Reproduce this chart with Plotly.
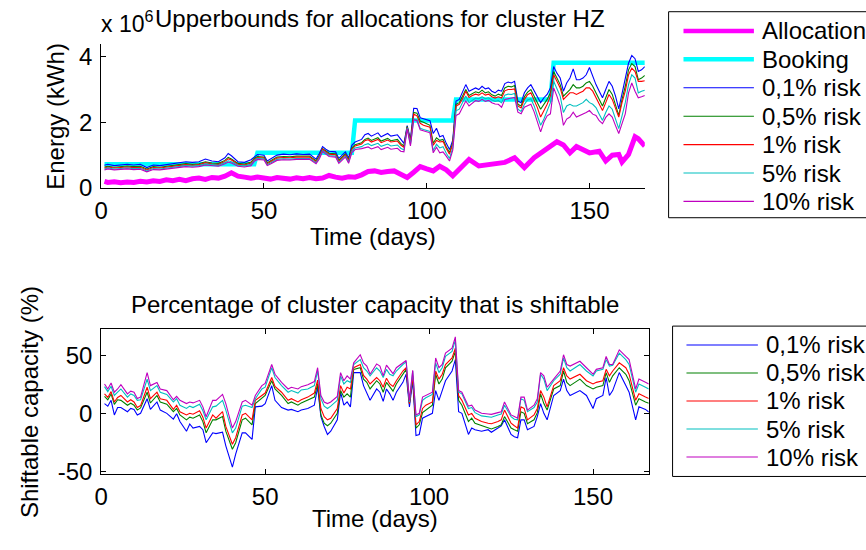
import plotly.graph_objects as go

# ---------------- DATA ----------------
# Top panel: energy (x 10^6 kWh)
top_days = [1, 2, 4, 6, 8, 10, 12, 14, 16, 18, 20, 22, 24, 26, 28, 30, 32, 34, 36, 38, 39, 40, 42, 44, 46,
            47, 48, 50, 51, 52, 54, 56, 58, 60, 62, 64, 66, 67, 68, 69, 70, 72, 73, 75, 76, 77, 78, 80,
            81, 82, 83, 85, 86, 88, 89, 91, 92, 93, 94, 95, 96, 97, 98, 99, 101, 102, 103, 104, 105, 106,
            107, 108, 109, 110, 111, 112, 113, 114, 115, 116, 117, 118, 119, 120, 121, 122, 123, 124, 125,
            126, 127, 128, 129, 130, 131, 132, 133, 134, 135, 136, 137, 138, 139, 140, 141, 142, 143, 144,
            145, 146, 147, 148, 149, 150, 151, 152, 153, 154, 155, 156, 157, 158, 159, 160, 161, 162, 163,
            164, 165, 166, 167]
ub_01 = [0.69, 0.72, 0.68, 0.70, 0.72, 0.70, 0.72, 0.62, 0.70, 0.68, 0.71, 0.73, 0.76, 0.80, 0.78, 0.80, 0.88,
         0.82, 0.80, 0.92, 1.05, 0.98, 0.80, 0.78, 0.86,
         0.95, 1.02, 1.00, 0.82, 0.88, 1.00, 1.03, 1.01, 1.04, 1.02, 1.03, 0.88, 1.05, 1.26, 1.18, 1.12,
         1.10, 0.90, 1.10, 0.92, 1.30, 1.40, 1.48,
         1.62, 1.66, 1.58, 1.68, 1.56, 1.66, 1.58, 1.62, 1.48, 1.36, 1.90, 1.48, 2.43, 2.42, 2.14, 2.11,
         2.05, 1.66, 1.82, 1.56, 1.60, 1.36,
         1.17, 1.46, 2.65, 2.70, 2.90, 3.15, 2.95, 3.00, 3.05, 3.00, 3.10, 3.02, 3.05, 2.95, 2.90, 2.98,
         2.95, 3.18, 3.23,
         3.20, 3.25, 2.65, 2.60, 2.90, 3.05, 3.15, 2.95, 2.80, 2.60, 2.75, 2.85, 3.05, 3.70, 3.50, 3.35,
         2.95, 3.20, 3.35,
         3.63, 3.30, 3.30, 3.35, 3.45, 3.67, 3.40, 3.15, 2.95, 2.75, 3.00, 3.25, 3.10, 2.80, 2.41, 2.90,
         3.30, 3.80, 4.04,
         3.94, 3.55, 3.60, 3.70]
ub_05 = [0.64, 0.66, 0.63, 0.65, 0.67, 0.65, 0.66, 0.58, 0.65, 0.63, 0.66, 0.68, 0.70, 0.74, 0.72, 0.74, 0.80,
         0.76, 0.75, 0.84, 0.93, 0.88, 0.75, 0.73, 0.79,
         0.90, 0.96, 0.94, 0.77, 0.82, 0.94, 0.96, 0.95, 0.97, 0.96, 0.97, 0.83, 0.98, 1.20, 1.12, 1.06,
         1.04, 0.85, 1.04, 0.86, 1.22, 1.32, 1.38,
         1.48, 1.52, 1.45, 1.53, 1.43, 1.51, 1.44, 1.48, 1.36, 1.28, 1.88, 1.42, 2.30, 2.28, 2.04, 2.00,
         1.91, 1.36, 1.53, 1.45, 1.48, 1.25,
         1.08, 1.38, 2.55, 2.60, 2.78, 3.00, 2.82, 2.88, 2.93, 2.90, 2.98, 2.90, 2.93, 2.84, 2.80, 2.86,
         2.82, 3.05, 3.10,
         3.08, 3.12, 2.55, 2.50, 2.78, 2.92, 3.00, 2.78, 2.60, 2.40, 2.55, 2.70, 2.90, 3.55, 3.35, 3.15,
         2.80, 2.90, 3.00,
         3.15, 3.05, 3.05, 3.10, 3.20, 3.25, 3.10, 2.90, 2.70, 2.50, 2.75, 3.00, 2.85, 2.55, 2.21, 2.70,
         3.10, 3.60, 3.79,
         3.70, 3.30, 3.35, 3.43]
ub_1 = [0.61, 0.64, 0.61, 0.62, 0.64, 0.62, 0.63, 0.55, 0.62, 0.61, 0.63, 0.65, 0.67, 0.71, 0.69, 0.71, 0.77,
        0.73, 0.72, 0.81, 0.89, 0.85, 0.72, 0.70, 0.76,
        0.87, 0.93, 0.91, 0.74, 0.79, 0.91, 0.93, 0.92, 0.94, 0.93, 0.94, 0.80, 0.95, 1.18, 1.09, 1.03,
        1.01, 0.82, 1.01, 0.83, 1.18, 1.28, 1.34,
        1.44, 1.47, 1.40, 1.48, 1.38, 1.46, 1.40, 1.43, 1.31, 1.24, 1.85, 1.38, 2.25, 2.20, 1.97, 1.91,
        1.85, 1.30, 1.45, 1.40, 1.42, 1.20,
        1.03, 1.34, 2.50, 2.55, 2.72, 2.95, 2.76, 2.82, 2.86, 2.83, 2.90, 2.83, 2.86, 2.78, 2.74, 2.78,
        2.74, 2.96, 3.00,
        3.00, 3.02, 2.50, 2.44, 2.70, 2.84, 2.90, 2.68, 2.45, 2.16, 2.35, 2.55, 2.80, 3.45, 3.25, 3.05,
        2.70, 2.80, 2.90,
        2.90, 2.85, 2.90, 2.95, 3.05, 3.05, 2.95, 2.75, 2.55, 2.36, 2.60, 2.85, 2.70, 2.45, 2.16, 2.60,
        2.95, 3.45, 3.65,
        3.55, 3.25, 3.25, 3.27]
ub_5 = [0.58, 0.61, 0.58, 0.59, 0.61, 0.59, 0.60, 0.52, 0.59, 0.58, 0.60, 0.62, 0.64, 0.68, 0.66, 0.68, 0.73,
        0.70, 0.69, 0.77, 0.83, 0.80, 0.69, 0.67, 0.72,
        0.84, 0.90, 0.88, 0.71, 0.76, 0.87, 0.89, 0.88, 0.90, 0.89, 0.90, 0.77, 0.92, 1.14, 1.05, 0.99,
        0.97, 0.78, 0.97, 0.79, 1.12, 1.22, 1.26,
        1.32, 1.35, 1.29, 1.36, 1.27, 1.34, 1.28, 1.31, 1.21, 1.16, 1.83, 1.32, 2.10, 2.08, 1.82, 1.78,
        1.72, 1.14, 1.33, 1.22, 1.26, 1.06,
        0.90, 1.22, 2.35, 2.40, 2.58, 2.80, 2.60, 2.68, 2.74, 2.72, 2.78, 2.72, 2.75, 2.68, 2.64, 2.66,
        2.60, 2.83, 2.86,
        2.85, 2.88, 2.40, 2.33, 2.55, 2.68, 2.72, 2.50, 2.20, 1.91, 2.10, 2.35, 2.60, 3.25, 3.05, 2.80,
        2.30, 2.50, 2.55,
        2.50, 2.50, 2.55, 2.60, 2.70, 2.60, 2.55, 2.45, 2.25, 2.06, 2.30, 2.50, 2.40, 2.10, 1.81, 2.20,
        2.60, 3.15, 3.45,
        3.35, 2.90, 2.95, 2.98]
ub_10 = [0.55, 0.58, 0.55, 0.56, 0.58, 0.56, 0.57, 0.49, 0.56, 0.55, 0.57, 0.59, 0.61, 0.65, 0.63, 0.65, 0.70,
         0.67, 0.66, 0.74, 0.79, 0.76, 0.66, 0.64, 0.68,
         0.81, 0.87, 0.85, 0.68, 0.73, 0.84, 0.86, 0.85, 0.87, 0.86, 0.87, 0.74, 0.88, 1.11, 1.02, 0.96,
         0.94, 0.75, 0.94, 0.75, 1.08, 1.17, 1.20,
         1.22, 1.25, 1.19, 1.26, 1.17, 1.24, 1.18, 1.21, 1.12, 1.10, 1.80, 1.28, 2.08, 2.05, 1.77, 1.74,
         1.68, 1.07, 1.24, 1.07, 1.10, 0.97,
         0.82, 1.15, 2.21, 2.26, 2.48, 2.65, 2.50, 2.58, 2.66, 2.64, 2.70, 2.64, 2.67, 2.60, 2.56, 2.55,
         2.46, 2.70, 2.72,
         2.74, 2.76, 2.31, 2.26, 2.46, 2.50, 2.55, 2.32, 2.00, 1.71, 2.01, 2.20, 2.26, 3.05, 2.80, 2.50,
         1.91, 2.10, 2.16,
         2.31, 2.16, 2.20, 2.26, 2.30, 2.36, 2.25, 2.21, 2.05, 1.96, 2.15, 2.26, 2.16, 1.90, 1.66, 1.96,
         2.26, 2.90, 3.20,
         2.95, 2.75, 2.78, 2.82]

alloc_days = [1, 2, 4, 6, 8, 10, 12, 14, 16, 18, 20, 22, 24, 26, 28, 30, 32, 34, 36, 38, 40, 42, 44, 46, 48,
              50, 52, 54, 56, 58, 60, 62, 64, 66, 68, 70, 72, 74, 76, 78, 80, 82, 84, 86, 88, 90, 92, 94,
              96, 98, 100, 102, 104, 106, 108, 110, 112, 113, 116, 118, 121, 124, 127, 130, 133, 135, 137,
              140, 142, 144, 146, 148, 150, 153, 155, 157, 159, 160, 162, 164, 165, 167]
allocation = [0.20, 0.17, 0.19, 0.16, 0.18, 0.17, 0.20, 0.18, 0.22, 0.20, 0.25, 0.22, 0.26, 0.22, 0.28, 0.30,
              0.26, 0.32, 0.30, 0.36, 0.46, 0.36, 0.33, 0.30, 0.33, 0.30, 0.27, 0.32, 0.30, 0.27, 0.31, 0.28,
              0.32, 0.28, 0.30, 0.38, 0.33, 0.30, 0.34, 0.33, 0.40, 0.50, 0.52, 0.47, 0.50, 0.52, 0.42, 0.32,
              0.48, 0.65, 0.58, 0.52, 0.66, 0.55, 0.37, 0.55, 0.78, 0.87, 0.67, 0.70, 0.72, 0.78, 0.92, 0.62,
              0.92, 1.07, 1.20, 1.41, 1.31, 1.07, 1.26, 1.15, 1.07, 1.12, 0.82, 1.00, 1.02, 0.79, 1.02,
              1.56, 1.50, 1.28]

booking_days = [1, 47, 48, 77, 78, 108, 109, 138, 139, 167]
booking = [0.72, 0.72, 1.07, 1.07, 2.06, 2.06, 2.70, 2.70, 3.82, 3.82]

# Bottom panel: shiftable capacity (%)
bot_days = [1, 2, 3, 4, 5, 6, 8, 9, 10, 11, 12, 14, 15, 17, 18, 20, 22, 23, 24, 26, 27, 28, 30, 31, 32, 34,
            35, 37, 38, 40, 41, 43, 44, 46, 47, 49, 50, 52, 53, 55, 57, 58, 60, 61, 63, 65, 66, 67, 68, 69,
            70, 72, 73, 74, 75, 76, 77, 79, 80, 81, 82, 84, 85, 86, 87, 88, 89, 90, 92, 93, 94, 95, 96, 97,
            98, 99, 101, 102, 103, 104, 105, 107, 108, 109, 110, 112, 113, 114, 116, 118, 119, 121, 122,
            123, 125, 126, 127, 128, 129, 130, 132, 133, 134, 135, 136, 138, 140, 141, 142, 143, 146, 148,
            150, 151, 153, 154, 155, 156, 158, 160, 161, 163, 164, 166, 167]
sh_10 = [25.6, 21.3, 26.4, 18.5, 21.3, 25.0, 17.1, 19.4, 18.5, 13.0, 14.3, 35.4, 24.2, 26.9, 21.3, 19.9,
         12.0, 14.9, 11.5, 8.7, 10.1, 9.3, 11.5, 5.9, -2.6, 11.5, 11.5, 16.6, 8.7, -12.4, -6.8, 10.1, 11.5,
         7.3, 15.7, 24.2, 26.1, 42.4, 34.0, 27.0, 21.3, 22.8, 21.3, 23.3, 25.0, 27.7, 39.6, 15.7, 10.1,
         8.7, 10.1, 14.9, 35.4, 28.4, 32.6, 29.8, 43.8, 50.8, 43.8, 41.0, 34.0, 42.9, 41.0, 32.6, 41.8,
         38.2, 34.5, 39.6, 43.8, 45.8, 11.5, 37.3, -1.1, 0.3, 14.3, 15.7, 18.5, 48.0, 39.6, 42.4, 52.2,
         56.4, 66.2, 19.9, 18.5, 6.5, 7.3, 3.1, 0.3, -0.3, -0.6, 0.9, 1.7, 10.1, -1.1, -2.5, -3.9, 14.3,
         14.3, 3.1, 7.3, 12.9, 35.4, 32.6, 22.8, 29.8, 36.8, 50.8, 42.4, 41.0, 45.2, 39.6, 34.0, 38.2,
         39.6, 49.4, 42.4, 42.4, 55.0, 49.4, 46.6, 21.3, 29.8, 27.0, 25.6]
sh_5 = [23.3, 19.0, 23.6, 15.7, 18.5, 21.3, 14.3, 17.0, 15.7, 11.5, 12.0, 29.7, 19.9, 24.2, 18.5, 16.6,
        10.1, 12.9, 7.3, 4.5, 6.5, 5.3, 8.2, 2.5, -5.3, 5.9, 6.5, 11.5, 3.1, -16.5, -12.4, 6.5, 7.3, 5.3,
        12.9, 21.3, 22.8, 39.6, 31.2, 24.2, 18.5, 19.9, 17.8, 20.5, 21.3, 24.2, 36.8, 12.9, 6.5, 4.5, 6.5,
        11.5, 32.6, 25.6, 28.4, 27.0, 42.4, 46.6, 39.6, 36.8, 32.6, 39.6, 36.8, 31.2, 38.2, 34.0, 32.6,
        36.8, 42.4, 44.6, 10.1, 36.8, -2.5, -1.1, 11.5, 13.7, 16.6, 43.8, 35.4, 39.6, 49.4, 53.6, 63.4,
        18.5, 17.1, 4.5, 5.3, 0.9, -1.9, -2.5, -3.1, -1.1, -0.3, 7.3, -2.5, -4.8, -5.3, 12.9, 11.5, 1.7,
        5.3, 10.1, 34.0, 29.8, 19.9, 28.4, 34.0, 48.0, 39.6, 36.8, 42.4, 36.8, 32.6, 36.8, 38.2, 46.6,
        41.0, 41.8, 52.2, 46.6, 42.4, 18.5, 25.6, 22.8, 21.3]
sh_1 = [17.1, 14.0, 19.0, 10.1, 14.0, 15.7, 10.1, 12.0, 10.1, 5.3, 7.0, 22.8, 12.9, 18.5, 12.9, 11.5, 3.7,
        7.3, 1.7, -1.1, 0.3, -0.5, 2.5, -3.0, -12.4, -1.1, -3.9, 1.7, -11.0, -26.3, -20.7, -1.1, 0.3,
        -5.3, 11.5, 15.7, 17.8, 31.2, 23.4, 18.5, 11.5, 12.9, 10.1, 12.0, 14.3, 17.8, 28.9, 4.5, -2.5,
        -5.3, -3.9, 4.5, 24.2, 17.8, 22.8, 21.3, 39.6, 42.4, 33.0, 29.8, 25.6, 31.2, 28.4, 22.8, 30.6,
        25.6, 23.4, 28.4, 36.8, 39.6, 8.7, 32.6, -9.6, -6.8, 4.5, 7.3, 10.1, 36.8, 29.8, 34.0, 42.4,
        48.0, 56.4, 15.7, 11.5, -1.1, 0.3, -3.9, -6.8, -8.2, -8.7, -6.8, -5.3, 3.1, -8.2, -10.4, -12.4,
        5.9, 4.5, -5.3, -1.1, 4.5, 19.9, 14.3, 5.9, 24.2, 28.4, 39.6, 32.6, 29.8, 34.0, 28.4, 25.6, 27.0,
        28.4, 38.2, 32.6, 36.8, 43.8, 39.6, 34.0, 11.5, 17.1, 14.3, 13.0]
sh_05 = [15.0, 12.0, 17.0, 8.0, 12.0, 11.5, 7.3, 9.0, 7.3, 3.1, 5.0, 18.5, 9.2, 15.7, 10.1, 8.2, 1.7, 4.5,
         -1.1, -5.3, -3.0, -3.9, -1.1, -6.8, -16.5, -5.3, -5.3, -2.5, -15.1, -30.6, -25.0, -5.3, -3.9,
         -9.6, 8.7, 12.9, 15.7, 28.4, 21.3, 15.7, 8.7, 10.1, 7.3, 9.3, 11.5, 14.3, 25.6, -1.1, -8.2,
         -10.4, -8.2, 0.3, 19.9, 14.3, 17.1, 14.3, 38.2, 39.6, 29.8, 27.0, 21.3, 28.4, 25.6, 18.5, 27.0,
         22.8, 19.4, 25.6, 34.0, 38.2, 8.7, 31.2, -12.4, -9.6, 0.9, 3.1, 7.3, 34.0, 25.6, 29.8, 39.6,
         45.2, 53.6, 11.5, 7.3, -6.8, -3.9, -8.2, -10.4, -12.4, -13.2, -11.0, -9.6, -2.5, -12.4, -13.8,
         -15.1, 1.7, 0.3, -8.7, -5.3, 0.9, 17.1, 8.7, 3.1, 21.3, 24.2, 36.8, 27.0, 24.2, 29.8, 24.2, 21.3,
         22.8, 24.2, 35.4, 27.0, 32.6, 39.6, 34.0, 28.4, 7.3, 12.9, 10.1, 9.0]
sh_01 = [8.7, 6.5, 11.5, -1.1, 5.3, 5.3, 1.7, 4.5, 3.7, -1.1, 0.3, 12.9, 3.7, 10.1, 3.1, 0.3, -4.7, 0.0,
         -6.8, -15.1, -8.9, -12.4, -11.0, -13.8, -25.0, -16.5, -17.2, -16.0, -27.7, -46.0, -34.8, -16.5,
         -16.5, -22.1, 5.9, 6.5, 8.7, 24.2, 11.5, 5.3, 3.1, 3.7, 1.7, 3.1, 4.5, 7.3, 22.8, -2.5, -11.0,
         -17.9, -15.1, -5.3, 18.5, 7.3, 10.1, 5.9, 35.4, 35.4, 24.2, 18.5, 11.5, 21.3, 18.5, 10.6, 21.3,
         17.1, 11.5, 18.5, 27.0, 34.0, 5.9, 28.4, -18.8, -17.9, -3.9, -2.5, 0.3, 19.9, 11.5, 19.9, 28.4,
         36.8, 46.6, 1.7, 0.3, -17.9, -12.4, -13.8, -15.1, -13.8, -16.0, -12.4, -10.4, -5.3, -17.9, -19.9,
         -20.7, -5.3, -5.3, -13.8, -11.0, -2.5, 8.7, 0.3, -5.3, 15.7, 19.9, 29.8, 19.9, 15.7, 19.9, 15.7,
         4.5, 12.9, 15.7, 31.2, 15.7, 19.9, 35.4, 24.2, 18.5, -5.3, 5.9, 3.7, 1.5]

risk_labels = ["0,1% risk", "0,5% risk", "1% risk", "5% risk", "10% risk"]
risk_colors = ["#0000FF", "#008000", "#FF0000", "#00BFBF", "#BF00BF"]
top_series = [ub_01, ub_05, ub_1, ub_5, ub_10]
bot_series = [sh_01, sh_05, sh_1, sh_5, sh_10]

# ---------------- FIGURE ----------------
W, H = 866, 550
FONT = "Liberation Sans, Arial, Helvetica, sans-serif"
FS = 24


def fx(p):
    return p / W


def fy(p):
    return 1 - p / H


fig = go.Figure()
fig.add_trace(go.Scatter(x=alloc_days, y=allocation, mode="lines", name="Allocation",
                         line=dict(color="#FF00FF", width=5), xaxis="x", yaxis="y", showlegend=False))
fig.add_trace(go.Scatter(x=booking_days, y=booking, mode="lines", name="Booking",
                         line=dict(color="#00FFFF", width=4.5), xaxis="x", yaxis="y", showlegend=False))
for lab, col, ser in zip(risk_labels, risk_colors, top_series):
    fig.add_trace(go.Scatter(x=top_days, y=ser, mode="lines", name=lab,
                             line=dict(color=col, width=1.1), xaxis="x", yaxis="y", showlegend=False))
for lab, col, ser in zip(risk_labels, risk_colors, bot_series):
    fig.add_trace(go.Scatter(x=bot_days, y=ser, mode="lines", name=lab,
                             line=dict(color=col, width=1.1), xaxis="x2", yaxis="y2", showlegend=False))

axis_common = dict(showline=True, linecolor="black", linewidth=1, ticks="inside", ticklen=5,
                   tickcolor="black", showgrid=False, zeroline=False,
                   tickfont=dict(family=FONT, size=FS, color="black"))

fig.update_layout(
    width=W, height=H, margin=dict(l=0, r=0, t=0, b=0),
    paper_bgcolor="white", plot_bgcolor="white",
    font=dict(family=FONT, size=FS, color="black"),
    xaxis=dict(domain=[fx(95), fx(643)], range=[0, 167], anchor="y",
               tickvals=[0, 50, 100, 150], ticklabelstandoff=1, **axis_common),
    yaxis=dict(domain=[fy(192.5), fy(45)], range=[0, 4.39], anchor="x",
               tickvals=[0, 2, 4], ticklabelstandoff=3, **axis_common),
    xaxis2=dict(domain=[fx(95), fx(647)], range=[0, 167], anchor="y2", mirror="allticks",
                tickvals=[0, 50, 100, 150], ticklabelstandoff=1, **axis_common),
    yaxis2=dict(domain=[fy(485.5), fy(337.3)], range=[-52, 72.7], anchor="x2", mirror="allticks",
                tickvals=[-50, 0, 50], ticktext=["-50", "0", "50"], ticklabelstandoff=3, **axis_common),
)

ann = []


def text(t, x, y, xanchor="center", yanchor="middle", angle=0, size=FS):
    ann.append(dict(text=t, x=fx(x), y=fy(y), xref="paper", yref="paper", showarrow=False,
                    xanchor=xanchor, yanchor=yanchor, textangle=angle,
                    font=dict(family=FONT, size=size, color="black")))


text("Upperbounds for allocations for cluster HZ", 376, 19)
text("x 10<sup>6</sup>", 93, 23, xanchor="left", size=23)
text("Energy (kWh)", 49, 119, angle=-90)
text("Time (days)", 369, 242)
text("Percentage of cluster capacity that is shiftable", 371, 312)
text("Shiftable capacity (%)", 22, 412, angle=-90)
text("Time (days)", 371, 531)

shapes = []
# legend 1
shapes.append(dict(type="rect", xref="paper", yref="paper", x0=fx(667), x1=fx(875), y0=fy(223), y1=fy(12),
                   line=dict(color="black", width=1), fillcolor="white", layer="above"))
leg1 = [("Allocation", "#FF00FF", 4.5), ("Booking", "#00FFFF", 4.5)] + \
       [(l, c, 1.1) for l, c in zip(risk_labels, risk_colors)]
for i, (lab, col, wd) in enumerate(leg1):
    yy = 31.7 + i * 29.1
    shapes.append(dict(type="line", xref="paper", yref="paper", x0=fx(682), x1=fx(753), y0=fy(yy), y1=fy(yy),
                       line=dict(color=col, width=wd), layer="above"))
    text(lab, 759, yy, xanchor="left")
# legend 2
shapes.append(dict(type="rect", xref="paper", yref="paper", x0=fx(671), x1=fx(875), y0=fy(488), y1=fy(334),
                   line=dict(color="black", width=1), fillcolor="white", layer="above"))
for i, (lab, col) in enumerate(zip(risk_labels, risk_colors)):
    yy = 353.3 + i * 28.7
    shapes.append(dict(type="line", xref="paper", yref="paper", x0=fx(685), x1=fx(757), y0=fy(yy), y1=fy(yy),
                       line=dict(color=col, width=1.1), layer="above"))
    text(lab, 763, yy, xanchor="left")

fig.update_layout(annotations=ann, shapes=shapes)
fig.write_html("out.html")
